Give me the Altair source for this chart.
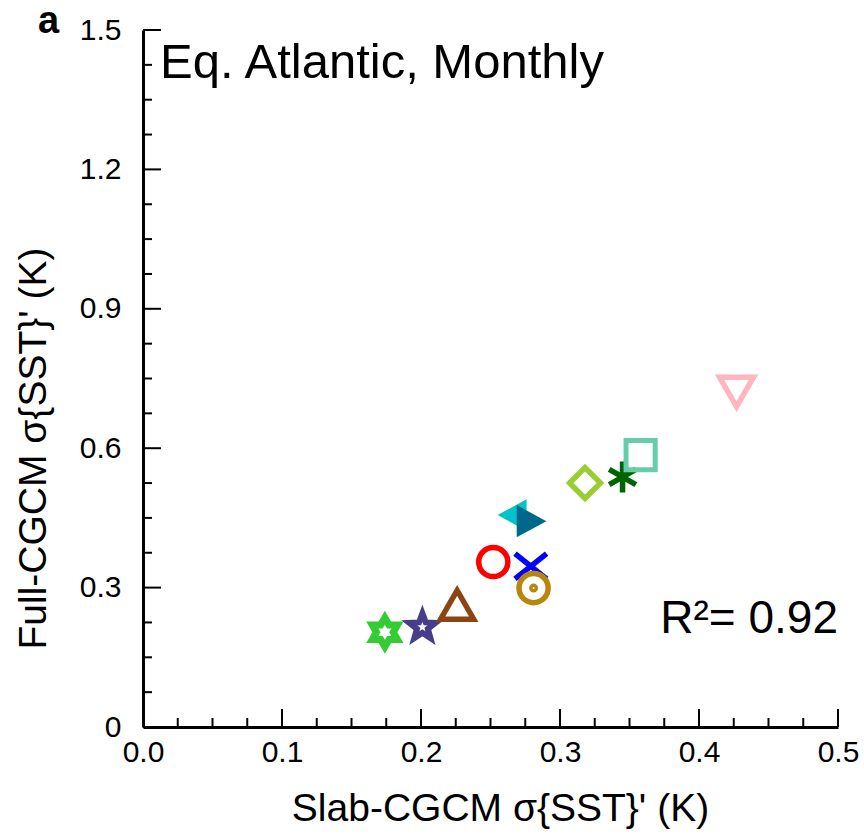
import math
import altair as alt
import pandas as pd

# ---- data ----
models = ["M01", "M02", "M03", "M04", "M05", "M06",
          "M07", "M08", "M09", "M10", "M11", "M12"]
slab_sst = [0.174, 0.201, 0.226, 0.252, 0.279, 0.281,
            0.267, 0.278, 0.318, 0.345, 0.358, 0.427]
full_sst = [0.204, 0.215, 0.263, 0.355, 0.346, 0.299,
            0.456, 0.443, 0.525, 0.538, 0.585, 0.721]

x_major = [0.0, 0.1, 0.2, 0.3, 0.4, 0.5]
x_minor = [0.025, 0.05, 0.075, 0.125, 0.15, 0.175, 0.225, 0.25, 0.275,
           0.325, 0.35, 0.375, 0.425, 0.45, 0.475]
y_major = [0.0, 0.3, 0.6, 0.9, 1.2, 1.5]
y_minor = [0.075, 0.15, 0.225, 0.375, 0.45, 0.525, 0.675, 0.75, 0.825,
           0.975, 1.05, 1.125, 1.275, 1.35, 1.425]

# ---- styles ----
def star_path(n, r_in, start=-90.0):
    pts = []
    for k in range(2 * n):
        a = math.radians(start + k * 180.0 / n)
        r = 1.0 if k % 2 == 0 else r_in
        pts.append(f"{r*math.cos(a):.3f},{r*math.sin(a):.3f}")
    return "M" + "L".join(pts) + "Z"

HEXAGRAM = star_path(6, 0.577)
STAR5 = star_path(5, 0.42)
ASTER = "M0,-1L0,1M-0.866,-0.5L0.866,0.5M-0.866,0.5L0.866,-0.5"
XSHAPE = "M-1,-0.8L1,0.8M1,-0.8L-1,0.8"
CIRCDOT = ("M1,0A1,1 0 1,1 -1,0A1,1 0 1,1 1,0Z"
           "M0.12,0A0.12,0.12 0 1,1 -0.12,0A0.12,0.12 0 1,1 0.12,0Z")
TRI_LEFT = "M-1,0L0.75,-0.95L0.75,0.95Z"
TRI_RIGHT = "M1,0L-0.75,-0.95L-0.75,0.95Z"

colors = ["#33cc33", "#483d8b", "#8b4513", "#ff0000", "#0000ff", "#b8860b",
          "#00c4cc", "#00688b", "#9acd32", "#006400", "#66cdaa", "#ffb6c1"]
shapes = [HEXAGRAM, STAR5, "triangle-up", "circle", XSHAPE, CIRCDOT,
          TRI_LEFT, TRI_RIGHT, "diamond", ASTER, "square",
          "triangle-down"]
sizes = [850, 750, 1100, 850, 1000, 850, 1100, 1150, 950, 950, 850, 1150]
widths = [7, 6, 5.5, 5.5, 5.5, 5.5, 0, 0, 5.5, 5.5, 5, 5.5]
filled_models = ["M07", "M08"]

df = pd.DataFrame({"model": models, "slab": slab_sst, "full": full_sst})

FONT = "Liberation Sans"
W, H = 695, 697

xs = alt.Scale(domain=[0, 0.5], nice=False, zero=False)
ys = alt.Scale(domain=[0, 1.5], nice=False, zero=False)

color_scale = alt.Scale(domain=models, range=colors)
shape_scale = alt.Scale(domain=models, range=shapes)
size_scale = alt.Scale(type="ordinal", domain=models, range=sizes)
sw_scale = alt.Scale(type="ordinal", domain=models, range=widths)

base = alt.Chart(df).encode(
    x=alt.X("slab:Q", scale=xs,
            axis=alt.Axis(title="Slab-CGCM σ{SST}' (K)", values=x_major,
                          format=".1f", ticks=False, grid=False,
                          labelFlush=False,
                          labelFontSize=30, titleFontSize=39,
                          labelPadding=10, titlePadding=22,
                          titleX=357,
                          titleFontWeight="normal")),
    y=alt.Y("full:Q", scale=ys,
            axis=alt.Axis(title="Full-CGCM σ{SST}' (K)", values=y_major,
                          labelExpr="datum.value == 0 ? '0' : format(datum.value, '.1f')",
                          ticks=False, grid=False, labelFlush=False,
                          labelFontSize=30, titleFontSize=39,
                          labelPadding=22, titlePadding=26,
                          titleY=418,
                          titleFontWeight="normal")),
)

open_pts = base.transform_filter(
    alt.FieldOneOfPredicate(field="model", oneOf=[m for m in models if m not in filled_models])
).mark_point(filled=False, opacity=1).encode(
    stroke=alt.Color("model:N", scale=color_scale, legend=None),
    shape=alt.Shape("model:N", scale=shape_scale, legend=None),
    size=alt.Size("model:N", scale=size_scale, legend=None),
    strokeWidth=alt.StrokeWidth("model:N", scale=sw_scale, legend=None),
)

filled_pts = base.transform_filter(
    alt.FieldOneOfPredicate(field="model", oneOf=filled_models)
).mark_point(filled=True, opacity=1, strokeWidth=0).encode(
    fill=alt.Color("model:N", scale=color_scale, legend=None),
    shape=alt.Shape("model:N", scale=shape_scale, legend=None),
    size=alt.Size("model:N", scale=size_scale, legend=None),
)

def xtick_layer(vals, length):
    d = pd.DataFrame({"v": vals})
    return alt.Chart(d).mark_rule(color="black", strokeWidth=2).encode(
        x=alt.X("v:Q", scale=xs), y=alt.value(H), y2=alt.value(H - length))

def ytick_layer(vals, length):
    d = pd.DataFrame({"v": vals})
    return alt.Chart(d).mark_rule(color="black", strokeWidth=2).encode(
        y=alt.Y("v:Q", scale=ys), x=alt.value(0), x2=alt.value(length))

def label(txt, x, y, size, align="left", weight="normal"):
    d = pd.DataFrame({"t": [txt]})
    return alt.Chart(d).mark_text(
        font=FONT, fontSize=size, align=align, baseline="alphabetic",
        fontWeight=weight, color="black").encode(
        text="t:N", x=alt.value(x), y=alt.value(y))

chart = alt.layer(
    xtick_layer(x_major, 18), xtick_layer(x_minor, 9),
    ytick_layer(y_major, 18), ytick_layer(y_minor, 9),
    open_pts, filled_pts,
    label("Eq. Atlantic, Monthly", 17, 48, 49),
    label("R²= 0.92", 695, 603, 46, align="right"),
    label("a", -105, 3, 38, weight="bold"),
).properties(
    width=W, height=H,
    autosize=alt.AutoSizeParams(type="none"),
    padding={"left": 143, "top": 30, "right": 26, "bottom": 111},
).configure_view(stroke=None).configure_axis(
    labelFont=FONT, titleFont=FONT, labelColor="black", titleColor="black",
    domainColor="black", domainWidth=3,
)

chart.save("out.html", embed_options={"renderer": "svg", "actions": False})
